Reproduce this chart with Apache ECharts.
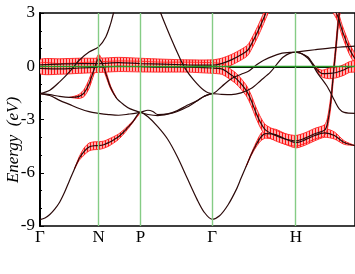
<!DOCTYPE html>
<html><head><meta charset="utf-8">
<script src="https://cdn.jsdelivr.net/npm/echarts@6/dist/echarts.min.js"></script>
<style>html,body{margin:0;padding:0;background:#fff}#c{width:355px;height:274px}</style>
</head><body><div id="c"></div>
<script>
// High-symmetry path (units of 2pi/a along the path)
const kLabels = ['Γ', 'N', 'P', 'Γ', 'H'];
const kTicks = [0, 0.699, 1.198, 2.053, 3.053];
const kMax = 3.759;
const eMin = -9, eMax = 3, eStep = 3;

// Bands: [k, E (eV), fat-band half width (eV)]
const band1 = [[0,-8.64,0],[0.059,-8.55,0],[0.117,-8.35,0],[0.176,-8.05,0],[0.234,-7.66,0],[0.293,-7.1,0],[0.351,-6.45,0],[0.410,-5.8,0],[0.468,-5.2,0.1],[0.527,-4.8,0.2],[0.585,-4.55,0.22],[0.644,-4.48,0.22],[0.699,-4.47,0.22],[0.761,-4.42,0.2],[0.820,-4.3,0.2],[0.878,-4.15,0.18],[0.937,-3.97,0.15],[0.995,-3.72,0.12],[1.054,-3.42,0.08],[1.112,-3.1,0.04],[1.198,-2.6,0],[1.288,-2.85,0],[1.405,-3.4,0],[1.522,-4.1,0],[1.639,-5.1,0],[1.756,-6.3,0],[1.874,-7.5,0],[1.956,-8.2,0],[2.053,-8.62,0],[2.143,-8.42,0],[2.245,-7.8,0],[2.342,-6.95,0],[2.400,-6.3,0],[2.459,-5.65,0],[2.518,-5.0,0.05],[2.576,-4.45,0.12],[2.635,-4.0,0.2],[2.693,-3.8,0.25],[2.810,-3.85,0.3],[2.927,-4.1,0.3],[3.053,-4.3,0.3],[3.162,-4.15,0.3],[3.279,-3.9,0.3],[3.396,-3.75,0.25],[3.513,-3.9,0.2],[3.630,-4.3,0.1],[3.759,-4.47,0]];
const bandA = [[0,-1.54,0],[0.117,-1.35,0],[0.234,-0.88,0],[0.351,-0.32,0],[0.468,0.34,0],[0.585,0.8,0],[0.699,1.09,0],[0.785,1.65,0],[0.843,2.4,0],[0.878,3.0,0],[0.937,3.7,0],[1.054,4.5,0],[1.198,5.0,0],[1.347,4.2,0],[1.440,3.0,0],[1.557,1.65,0],[1.663,0.52,0],[1.733,-0.13,0],[1.838,-0.79,0],[1.956,-1.35,0],[2.053,-1.54,0],[2.166,-1.15,0],[2.283,-0.7,0],[2.400,-0.45,0],[2.482,-0.3,0],[2.576,0.05,0],[2.670,0.34,0],[2.869,0.71,0],[3.053,0.8,0],[3.279,0.93,0],[3.513,1.05,0],[3.759,1.13,0]];
const bandB = [[0,-1.54,0],[0.117,-1.6,0],[0.234,-1.7,0],[0.351,-1.75,0],[0.410,-1.74,0.05],[0.468,-1.7,0.12],[0.527,-1.5,0.2],[0.585,-1.0,0.25],[0.644,-0.2,0.25],[0.699,0.42,0.25],[0.738,0.2,0.2],[0.785,-0.4,0.15],[0.843,-1.2,0.08],[0.913,-1.8,0],[0.995,-2.15,0],[1.077,-2.4,0],[1.198,-2.6,0],[1.288,-2.72,0],[1.405,-2.78,0],[1.522,-2.7,0],[1.639,-2.55,0],[1.756,-2.3,0],[1.874,-1.95,0],[1.956,-1.7,0],[2.053,-1.54,0],[2.166,-1.58,0],[2.283,-1.6,0],[2.400,-1.5,0],[2.518,-1.26,0],[2.635,-0.8,0],[2.752,-0.32,0],[2.904,0.52,0],[3.053,0.8,0],[3.197,0.45,0],[3.314,-0.4,0],[3.431,-1.17,0],[3.513,-1.92,0],[3.571,-2.4,0],[3.630,-2.6,0],[3.759,-2.65,0]];
const bandC = [[0,-1.54,0],[0.117,-1.65,0],[0.234,-1.92,0],[0.351,-2.15,0],[0.468,-2.38,0],[0.585,-2.56,0],[0.699,-2.65,0],[0.820,-2.72,0],[0.937,-2.76,0],[1.054,-2.7,0],[1.198,-2.6,0],[1.288,-2.48,0],[1.347,-2.55,0],[1.405,-2.72,0],[1.522,-2.68,0],[1.639,-2.5,0],[1.756,-2.2,0],[1.874,-1.95,0],[1.956,-1.7,0],[2.053,-1.54,0]];
const bandD = [[0,0.08,0.3],[0.234,0.12,0.3],[0.468,0.15,0.3],[0.699,0.15,0.3],[0.937,0.2,0.3],[1.198,0.15,0.3],[1.464,0.12,0.28],[1.756,0.08,0.28],[2.053,0.06,0.3],[2.166,0.15,0.3],[2.283,0.36,0.3],[2.400,0.65,0.3],[2.478,0.9,0.3],[2.529,1.3,0.3],[2.596,1.93,0.3],[2.646,2.45,0.3],[2.693,2.97,0.3],[2.752,3.6,0.3],[2.9,5.0,0.3],[3.053,5.5,0.3],[3.3,4.6,0.3],[3.536,3.0,0.3],[3.607,2.0,0.3],[3.689,1.0,0.3],[3.759,0.42,0.25]];
const bandE = [[0,-0.12,0.3],[0.234,-0.15,0.3],[0.468,-0.1,0.3],[0.699,-0.05,0.3],[0.937,0.0,0.3],[1.198,-0.02,0.3],[1.464,-0.05,0.28],[1.756,-0.05,0.28],[2.053,-0.1,0.3],[2.166,-0.15,0.3],[2.225,-0.3,0.3],[2.342,-0.7,0.3],[2.459,-1.35,0.3],[2.518,-1.9,0.3],[2.576,-2.6,0.3],[2.635,-3.2,0.3],[2.693,-3.6,0.3],[2.810,-3.9,0.3],[2.927,-4.1,0.3],[3.053,-4.2,0.3],[3.162,-4.05,0.3],[3.279,-3.8,0.3],[3.396,-3.6,0.3],[3.431,-3.2,0.3],[3.470,-2.0,0.3],[3.500,-0.5,0.3],[3.530,1.0,0.3],[3.571,3.0,0.3],[3.630,4.5,0.3]];
const bandF = [[3.053,0.8,0],[3.103,0.75,0],[3.197,0.52,0],[3.255,0.15,0],[3.314,-0.23,0.1],[3.372,-0.42,0.2],[3.454,-0.4,0.3],[3.536,-0.35,0.3],[3.630,-0.2,0.3],[3.689,-0.05,0.3],[3.759,0.0,0.3]];
const bands = [band1, bandA, bandB, bandC, bandD, bandE, bandF];

const chart = echarts.init(document.getElementById('c'), null, {renderer: 'canvas'});

// stripe pattern for fat bands
const pc = document.createElement('canvas');
pc.width = 3; pc.height = 2;
const pctx = pc.getContext('2d');
pctx.fillStyle = '#ffb0b0'; pctx.fillRect(0, 0, 3, 2);
pctx.fillStyle = '#ff1010'; pctx.fillRect(0, 0, 1, 2);

function fatRenderer(band) {
  return function (params, api) {
    const children = [];
    let run = [];
    const flush = () => {
      if (run.length > 1) {
        const up = run.map(p => api.coord([p[0], p[1] + p[2]]));
        const lo = run.map(p => api.coord([p[0], p[1] - p[2]])).reverse();
        children.push({type: 'polygon', shape: {points: up.concat(lo), smooth: 0.25},
          style: {fill: {image: pc, repeat: 'repeat'}, stroke: '#ff2020', lineWidth: 0.9}});
      }
      run = [];
    };
    for (let i = 0; i < band.length; i++) {
      const p = band[i];
      if (p[2] > 0) {
        if (run.length === 0 && i > 0) run.push(band[i - 1]);
        run.push(p);
      } else if (run.length) {
        run.push(p); flush();
      }
    }
    flush();
    const cs = params.coordSys;
    return {type: 'group', children: children,
      clipPath: {type: 'rect', shape: {x: cs.x, y: cs.y, width: cs.width, height: cs.height}}};
  };
}

const series = [];
bands.forEach((b) => {
  if (b.some(p => p[2] > 0)) {
    series.push({type: 'custom', coordinateSystem: 'cartesian2d', data: [[0, 0]], z: 1,
      silent: true, renderItem: fatRenderer(b)});
  }
});
series.push({type: 'line', data: [], z: 2, silent: true,
  markLine: {symbol: 'none', silent: true, label: {show: false}, animation: false,
    data: kTicks.slice(1).map(k => ({xAxis: k, lineStyle: {color: '#85cc85', width: 1.4, type: 'solid'}}))
      .concat([{yAxis: 0, lineStyle: {color: '#2a9a2a', width: 1.4, type: 'solid'}}])}});
bands.forEach(b => {
  series.push({type: 'line', data: b.map(p => [p[0], p[1]]), smooth: 0.3, showSymbol: false,
    silent: true, z: 3, lineStyle: {color: '#2b0a0a', width: 1.2}});
});

chart.setOption({
  animation: false,
  grid: {left: 40, top: 13, width: 321, height: 213, show: true, borderColor: '#000', borderWidth: 1.5},
  xAxis: {type: 'value', min: 0, max: kMax,
    axisLine: {lineStyle: {color: '#000', width: 2}},
    axisTick: {show: false}, splitLine: {show: false},
    axisLabel: {customValues: kTicks, color: '#000', fontFamily: 'Liberation Serif', fontSize: 17, margin: 3,
      formatter: v => { let bi = 0; kTicks.forEach((t, i) => { if (Math.abs(t - v) < Math.abs(kTicks[bi] - v)) bi = i; }); return kLabels[bi]; }}},
  yAxis: {type: 'value', min: eMin, max: eMax, interval: eStep,
    axisLine: {show: true, lineStyle: {color: '#000', width: 2}},
    axisTick: {inside: true, length: 4, lineStyle: {color: '#000'}},
    minorTick: {show: true, splitNumber: 3, length: 2, lineStyle: {color: '#000'}},
    splitLine: {show: false},
    axisLabel: {color: '#000', fontFamily: 'Liberation Serif', fontSize: 17, margin: 5}},
  graphic: [{type: 'text', x: 14, y: 140, rotation: Math.PI / 2,
    style: {text: 'Energy  (eV)', font: 'italic 17px "Liberation Serif"', fill: '#000', align: 'center', verticalAlign: 'middle'}}],
  series: series
});
</script></body></html>
